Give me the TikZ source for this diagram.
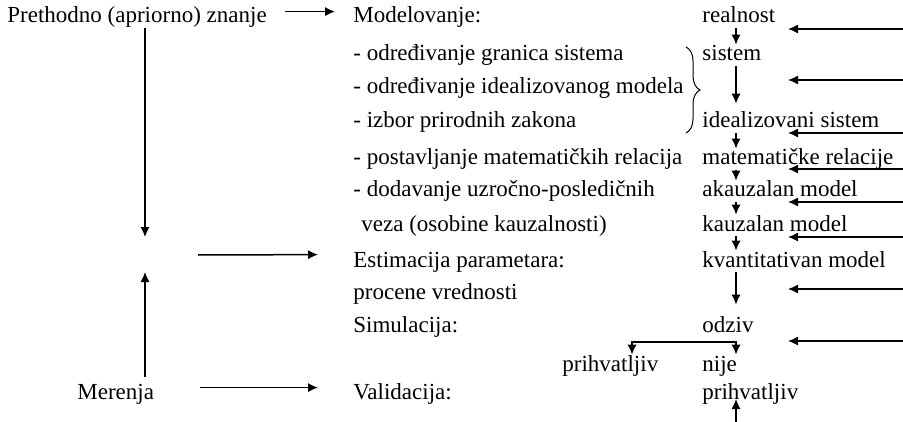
\documentclass[tikz,border=0pt]{standalone}
\usepackage{fontspec}
\setmainfont{Liberation Serif}
\usepackage{tikz}
\usetikzlibrary{arrows.meta, decorations.pathreplacing}

\begin{document}
\begin{tikzpicture}[
    x=0.5pt, y=-0.5pt,
    lbl/.style={anchor=base west, inner sep=0pt, text height=8pt, text depth=2.5pt,
                font=\fontsize{11.5pt}{13pt}\selectfont},
    arr/.style={-{Latex[length=5pt, width=4.6pt]}, line width=0.75pt},
    brc/.style={decorate, decoration={brace, amplitude=7pt}, line width=0.5pt}
]
\useasboundingbox (0,0) rectangle (903,422);
\node[lbl] (prior) at (7,23) {Prethodno (apriorno) znanje};
\node[lbl] (meas) at (77,399) {Merenja};
\node[lbl] (model) at (353,23) {Modelovanje:};
\node[lbl] (bound) at (353,61) {- određivanje granica sistema};
\node[lbl] (idmod) at (353,94) {- određivanje idealizovanog modela};
\node[lbl] (laws) at (353,128) {- izbor prirodnih zakona};
\node[lbl] (rel) at (353,165) {- postavljanje matematičkih relacija};
\node[lbl] (caus) at (353,197) {- dodavanje uzročno-posledičnih};
\node[lbl] (caus2) at (361,231) {veza (osobine kauzalnosti)};
\node[lbl] (estim) at (353,267) {Estimacija parametara:};
\node[lbl] (est2) at (353,299) {procene vrednosti};
\node[lbl] (simul) at (353,332) {Simulacija:};
\node[lbl] (accL) at (562,371) {prihvatljiv};
\node[lbl] (valid) at (353,399) {Validacija:};
\node[lbl] (real) at (702,23) {realnost};
\node[lbl] (sys) at (702,61) {sistem};
\node[lbl] (isys) at (702,128) {idealizovani sistem};
\node[lbl] (mrel) at (702,165) {matematičke relacije};
\node[lbl] (akm) at (702,197) {akauzalan model};
\node[lbl] (km) at (702,231) {kauzalan model};
\node[lbl] (qm) at (702,267) {kvantitativan model};
\node[lbl] (resp) at (702,332) {odziv};
\node[lbl] (nije) at (702,371) {nije};
\node[lbl] (acc) at (702,399) {prihvatljiv};
\coordinate (gap) at (145,255);
\coordinate (spine) at (736,0);
\coordinate (forkL) at (632,342);
\coordinate (forkR) at (736,342);
\coordinate (foot) at (736,422);
\draw[brc] (686,47) -- (686,133);
\draw[arr] ([shift={(18,5)}]prior.north east) -- ([shift={(-18,5)}]model.north west);
\draw[arr] (prior.south -| gap) -- ([shift={(0,-18)}]gap);
\draw[arr, shorten <=3pt] (meas.north -| gap) -- ([shift={(0,17)}]gap);
\draw[arr] ([shift={(53,0)}]gap) -- ([shift={(-35,4)}]estim.north west);
\draw[arr] ([shift={(46,5)}]meas.north east) -- ([shift={(-35,5)}]valid.north west);
\draw[arr] (real.south -| spine) -- (sys.north -| spine);
\draw[arr, shorten >=4pt] (sys.south -| spine) -- (isys.north -| spine);
\draw[arr] (isys.south -| spine) -- (mrel.north -| spine);
\draw[arr] (mrel.south -| spine) -- (akm.north -| spine);
\draw[arr] (akm.south -| spine) -- (km.north -| spine);
\draw[arr] (km.south -| spine) -- (qm.north -| spine);
\draw[arr, shorten >=5.5pt] (qm.south -| spine) -- (resp.north -| spine);
\draw[arr, {Latex[length=5pt, width=4.6pt]}-{Latex[length=5pt, width=4.6pt]}]
    (accL.north -| forkL) -- (forkL) -- (forkR) -- (nije.north -| forkR);
\draw[arr] (foot) -- (acc.base -| foot);
\foreach \y [count=\i] in {29,80,133,169,202,237,289,341} {
    \coordinate (src\i) at (903,\y);
    \coordinate (dst\i) at (788,\y);
    \draw[arr] (src\i) -- (dst\i);
}
\end{tikzpicture}
\end{document}
